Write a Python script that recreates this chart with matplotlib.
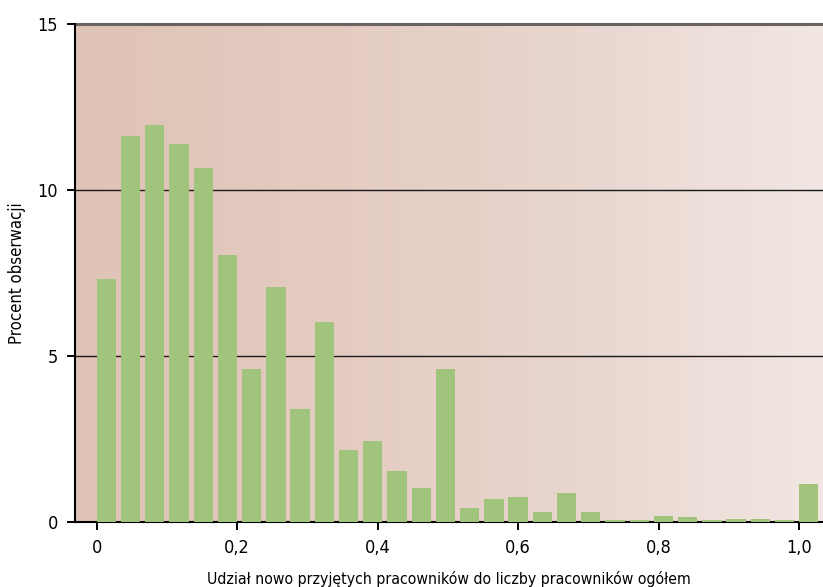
import numpy as np
import matplotlib
matplotlib.use('Agg')
import matplotlib.pyplot as plt
from matplotlib.colors import LinearSegmentedColormap
from matplotlib import font_manager

# bins: left edges at k/29, 30 bins
bin_left = [k / 29 for k in range(30)]
share = [7.32, 11.63, 11.96, 11.39, 10.66, 8.04, 4.61, 7.08, 3.40, 6.02,
         2.17, 2.44, 1.54, 1.02, 4.61, 0.42, 0.69, 0.75, 0.30, 0.87,
         0.30, 0.07, 0.07, 0.19, 0.16, 0.07, 0.09, 0.09, 0.07, 1.15]
xticks = [0, 0.2, 0.4, 0.6, 0.8, 1.0]
xtick_labels = ['0', '0,2', '0,4', '0,6', '0,8', '1,0']
yticks = [0, 5, 10, 15]

names = {f.name for f in font_manager.fontManager.ttflist}
fam = [n for n in ['Liberation Sans Narrow', 'DejaVu Sans'] if n in names]
plt.rcParams['font.family'] = fam
plt.rcParams['font.stretch'] = 'condensed'

fig = plt.figure(figsize=(8.23, 5.87), dpi=100)
ax = fig.add_axes([74.5 / 823, 65 / 587, 1 - 74.5 / 823, 498 / 587])

xmin, xmax = -0.0316, 1.034
ymin, ymax = 0, 15

# background gradient
cmap = LinearSegmentedColormap.from_list('bg', ['#dfc3b6', '#e4cbc0', '#e8d6cf', '#f2e7e3'])
grad = np.linspace(0, 1, 256).reshape(1, -1)
ax.imshow(grad, extent=[xmin, xmax, ymin, ymax], aspect='auto', cmap=cmap,
          zorder=0, interpolation='bilinear')

for y in [5, 10]:
    ax.axhline(y, color='#1a1a1a', lw=1.0, zorder=1)
ax.axhline(15, color='#6b6360', lw=2.2, zorder=1, clip_on=False)

ax.bar(bin_left, share, width=0.0275, align='edge', color='#a0c47c', zorder=2)

ax.set_xlim(xmin, xmax)
ax.set_ylim(ymin, ymax)
ax.set_xticks(xticks)
ax.set_xticklabels(xtick_labels)
ax.set_yticks(yticks)
ax.set_yticklabels([str(v) for v in yticks])
ax.tick_params(axis='both', labelsize=13, width=1.4, length=6, color='black', pad=6)
for lbl in ax.get_xticklabels() + ax.get_yticklabels():
    lbl.set_fontweight('medium')

for s in ['top', 'right']:
    ax.spines[s].set_visible(False)
ax.spines['left'].set_linewidth(1.5)
ax.spines['bottom'].set_linewidth(1.5)
ax.spines['bottom'].set_zorder(1.5)

ax.set_ylabel('Procent obserwacji', fontsize=12, labelpad=8)
ax.set_xlabel('Udział nowo przyjętych pracowników do liczby pracowników ogółem',
              fontsize=11.3, labelpad=10)

fig.savefig('out.png', dpi=100)
